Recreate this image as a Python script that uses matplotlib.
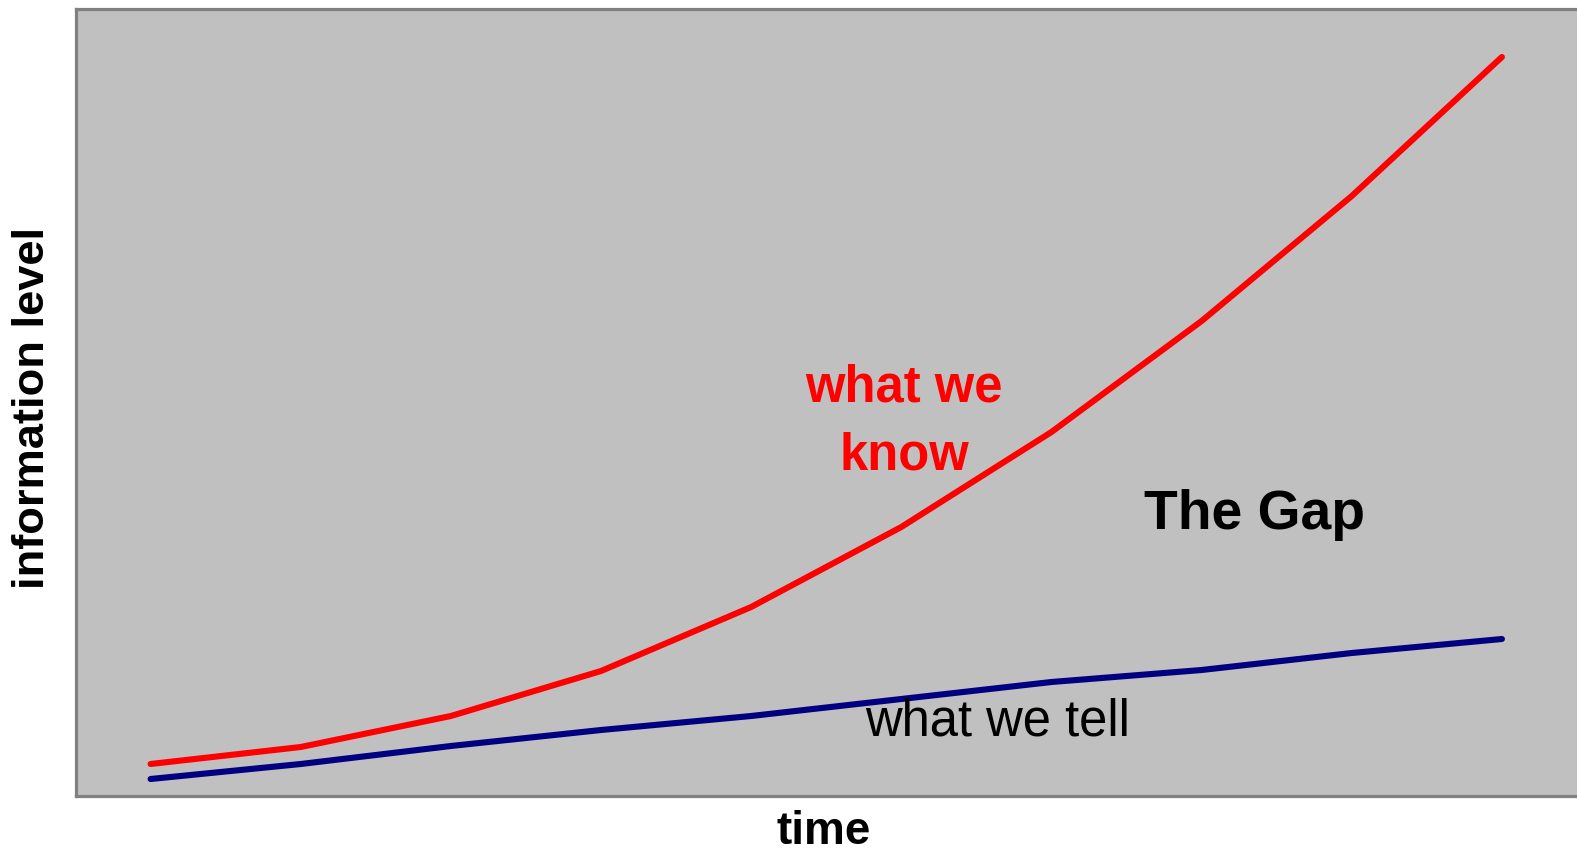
import matplotlib
matplotlib.use("Agg")
import matplotlib.pyplot as plt

# Data
time_steps = [1, 2, 3, 4, 5, 6, 7, 8, 9, 10]
what_we_know = [32, 49, 80, 125, 189, 269, 364, 475, 600, 739]
what_we_tell = [17, 32, 50, 66, 80, 97, 114, 126, 143, 157]

plt.rcParams['font.family'] = ['Liberation Sans', 'DejaVu Sans']

W, H = 1577, 849
fig = plt.figure(figsize=(W / 100, H / 100), dpi=100)
ax = fig.add_axes([75.5 / W, 53 / H, 1 - 75.5 / W, (796 - 8.5) / H])
ax.set_facecolor('#C0C0C0')
ax.set_xlim(0.5, 10.5)
ax.set_ylim(0, 787.5)
ax.set_xticks([])
ax.set_yticks([])
for side in ['left', 'top', 'bottom']:
    ax.spines[side].set_color('#808080')
    ax.spines[side].set_linewidth(2.3)
ax.spines['right'].set_visible(False)

ax.plot(time_steps, what_we_know, color='#FF0000', lw=4.4,
        solid_capstyle='round', solid_joinstyle='round')
ax.plot(time_steps, what_we_tell, color='#000080', lw=4.4,
        solid_capstyle='round', solid_joinstyle='round')

ax.text(6.02, 394, 'what we', color='#FF0000', fontsize=36.5, fontweight='bold',
        ha='center', va='baseline')
ax.text(6.02, 326, 'know', color='#FF0000', fontsize=36.5, fontweight='bold',
        ha='center', va='baseline')
ax.text(7.615, 267, 'The Gap', color='black', fontsize=39.8, fontweight='bold',
        ha='left', va='baseline')
ax.text(5.76, 61, 'what we tell', color='black', fontsize=36.5,
        ha='left', va='baseline')

fig.text(824 / W, 1 - 844 / H, 'time', fontsize=33, fontweight='bold',
         ha='center', va='baseline')
fig.text(33 / W, 1 - 408 / H, 'information level', fontsize=32.6,
         fontweight='bold', rotation=90, ha='center', va='center')

fig.savefig('out.png', dpi=100)
